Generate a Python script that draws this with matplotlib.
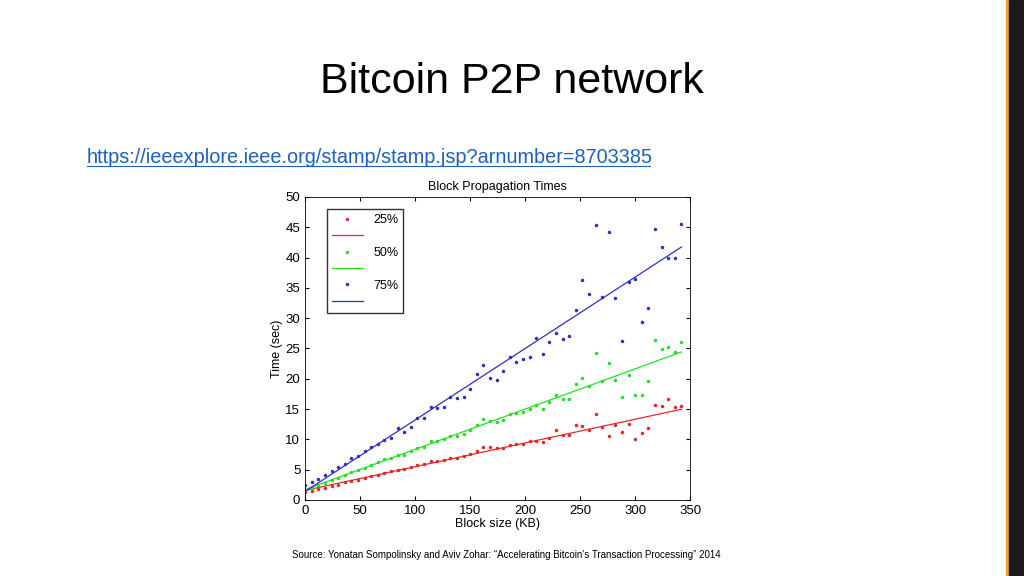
import matplotlib
matplotlib.use("Agg")
import matplotlib.pyplot as plt
import numpy as np

plt.rcParams["font.family"] = "Liberation Sans"

block_kb = np.arange(0, 343, 6)

t25 = [1.3, 1.5, 1.8, 2.0, 2.3, 2.5, 2.9, 3.1, 3.3, 3.6, 4.0, 4.2, 4.5, 4.7, 5.0,
       5.1, 5.4, 5.7, 5.9, 6.4, 6.4, 6.6, 6.9, 7.0, 7.3, 7.6, 8.0, 8.7, 8.7, 8.6,
       8.5, 9.1, 9.3, 9.2, 9.7, 9.8, 9.5, 10.3, 11.6, 10.7, 10.7, 12.4, 12.2, 11.6,
       14.2, 12.1, 10.6, 12.3, 11.2, 12.6, 10.1, 11.0, 11.8, 15.6, 15.5, 16.6, 15.3, 15.5]
t50 = [1.7, 2.0, 2.4, 2.8, 3.3, 3.6, 4.2, 4.6, 5.0, 5.3, 5.8, 6.2, 6.7, 6.9, 7.5,
       7.5, 8.0, 8.5, 8.8, 9.7, 9.8, 10.1, 10.6, 10.6, 10.9, 11.6, 12.4, 13.4, 13.0, 12.9,
       13.2, 14.2, 14.3, 14.5, 15.0, 15.7, 15.0, 16.2, 17.3, 16.6, 16.7, 19.2, 20.2, 18.8,
       24.2, 19.6, 22.6, 19.8, 17.0, 20.7, 17.4, 17.4, 19.6, 26.4, 24.9, 25.2, 24.5, 26.1]
t75 = [2.4, 2.9, 3.4, 4.1, 4.8, 5.4, 6.0, 6.9, 7.2, 8.0, 8.7, 9.2, 9.9, 10.2, 11.8,
       11.2, 12.0, 13.6, 13.5, 15.4, 15.2, 15.4, 17.0, 16.8, 17.0, 18.3, 20.8, 22.2, 20.2, 19.8,
       21.3, 23.6, 22.8, 23.3, 23.6, 26.7, 24.1, 26.0, 27.5, 26.6, 27.0, 31.3, 36.3, 34.0,
       45.4, 33.5, 44.2, 33.3, 26.2, 36.0, 36.5, 29.4, 31.6, 44.8, 41.8, 40.0, 39.9, 45.5]

series = [("25%", t25, "#e8262b"), ("50%", t50, "#22e022"), ("75%", t75, "#2f2fc8")]

fig = plt.figure(figsize=(10.24, 5.76), dpi=100)
fig.text(0.5, 0.857, "Bitcoin P2P network", ha="center", va="center", fontsize=31)
fig.text(0.085, 0.726, "https://ieeexplore.ieee.org/stamp/stamp.jsp?arnumber=8703385",
         ha="left", va="center", fontsize=14.3, color="#1f5fbf")
fig.add_artist(plt.Line2D([0.085, 0.635], [0.711, 0.711], color="#1f5fbf", lw=0.8))
fig.add_artist(plt.Rectangle((0.982, 0), 0.003, 1, color="#f0a030"))
fig.add_artist(plt.Rectangle((0.985, 0), 0.015, 1, color="#1a1a1a"))
fig.text(0.285, 0.037, "Source: Yonatan Sompolinsky and Aviv Zohar: \u201cAccelerating Bitcoin\u2019s Transaction Processing\u201d 2014",
         ha="left", va="center", fontsize=7)

ax = fig.add_axes([0.298, 0.132, 0.376, 0.526])
handles = []
for name, vals, col in series:
    vals = np.array(vals)
    d, = ax.plot(block_kb, vals, ".", color=col, ms=3, label=name)
    k, b = np.polyfit(block_kb, vals, 1)
    l, = ax.plot(block_kb, k * block_kb + b, "-", color=col, lw=0.9, label=" ")
    handles += [d, l]
ax.set_xlim(0, 350)
ax.set_ylim(0, 50)
ax.set_xticks(range(0, 351, 50))
ax.set_yticks(range(0, 51, 5))
ax.tick_params(labelsize=9.5, direction="in", top=True, right=True, length=3)
ax.set_xlabel("Block size (KB)", fontsize=9, labelpad=1)
ax.set_ylabel("Time (sec)", fontsize=9, labelpad=2)
ax.set_title("Block Propagation Times", fontsize=9, pad=5)
for s in ax.spines.values():
    s.set_linewidth(0.6)
ax.legend(handles, [h.get_label() for h in handles], loc="upper left",
          bbox_to_anchor=(0.04, 0.98), fontsize=9, fancybox=False,
          edgecolor="black", handlelength=2.5, labelspacing=0.35)

plt.savefig("out.png", dpi=100)
